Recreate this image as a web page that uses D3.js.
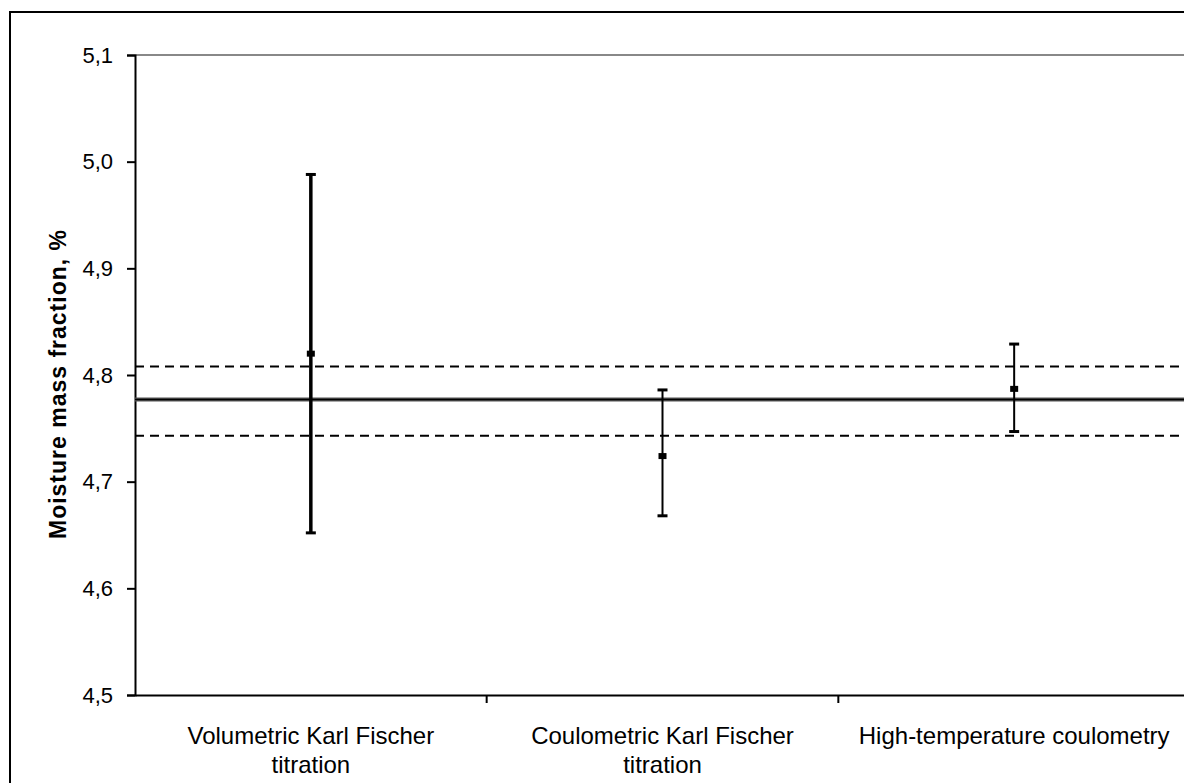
<!DOCTYPE html>
<html>
<head>
<meta charset="utf-8">
<script src="https://cdn.jsdelivr.net/npm/d3@7"></script>
<style>
  body { margin: 0; background: #fff; }
  svg text { font-family: "Liberation Sans", Arial, sans-serif; }
</style>
</head>
<body>
<svg id="chart" width="1184" height="783"></svg>
<script>
// methods on the category axis (lines of each label)
const methods = ["Volumetric Karl Fischer titration", "Coulometric Karl Fischer titration", "High-temperature coulometry"]
const methodLines = [["Volumetric Karl Fischer", "titration"], ["Coulometric Karl Fischer", "titration"], ["High-temperature coulometry"]]
// mean and interval per method
const means = [4.820, 4.724, 4.787]
const lows = [4.652, 4.668, 4.747]
const highs = [4.988, 4.786, 4.829]
// reference value and its band
const refValue = 4.777
const refLow = 4.743
const refHigh = 4.808
const yTicks = [4.5, 4.6, 4.7, 4.8, 4.9, 5.0, 5.1]

const svg = d3.select('#chart')
const plotLeft = 135, plotTop = 55, plotRight = 1190, plotBottom = 695

// outer frame
svg.append('rect')
  .attr('x', 10).attr('y', 12)
  .attr('width', 1200).attr('height', 800)
  .attr('fill', 'none').attr('stroke', '#000').attr('stroke-width', 2)

let x = d3.scaleBand().domain(methods).range([plotLeft, plotRight])
let y = d3.scaleLinear().domain([4.5, 5.1]).range([plotBottom, plotTop])

const g = svg.append('g')

// top border of plot area
g.append('line')
  .attr('x1', plotLeft).attr('x2', 1184)
  .attr('y1', y(5.1)).attr('y2', y(5.1))
  .attr('stroke', '#888').attr('stroke-width', 2)

// y axis
const yAxis = g.append('g')
  .attr('transform', `translate(${plotLeft},0)`)
  .call(d3.axisLeft(y).tickValues(yTicks).tickSize(8).tickPadding(14)
    .tickFormat(d => d3.format('.1f')(d).replace('.', ',')))
yAxis.select('.domain').attr('stroke-width', 2)
yAxis.selectAll('.tick line').attr('stroke-width', 2)
yAxis.selectAll('text').attr('font-size', 22).attr('fill', '#000')

// x axis
const xAxis = g.append('g')
  .attr('transform', `translate(0,${plotBottom})`)
  .call(d3.axisBottom(x).tickSize(0).tickFormat(''))
xAxis.select('.domain').attr('stroke-width', 2)
let edges = methods.map(m => x(m)).slice(1)
g.selectAll('.xtick')
  .data(edges)
  .enter()
  .append('line')
  .attr('x1', d => d).attr('x2', d => d)
  .attr('y1', plotBottom).attr('y2', plotBottom + 8)
  .attr('stroke', '#000').attr('stroke-width', 2)

// category labels
methods.forEach((m, i) => {
  const t = g.append('text')
    .attr('x', x(m) + x.bandwidth() / 2)
    .attr('y', 744)
    .attr('text-anchor', 'middle')
    .attr('font-size', 24)
    .attr('fill', '#000')
  methodLines[i].forEach((line, j) => {
    t.append('tspan')
      .attr('x', x(m) + x.bandwidth() / 2)
      .attr('dy', j == 0 ? 0 : 29)
      .text(line)
  })
})

// axis title
svg.append('text')
  .attr('transform', `translate(66,384) rotate(-90)`)
  .attr('text-anchor', 'middle')
  .attr('font-size', 23)
  .attr('letter-spacing', 1)
  .attr('font-weight', 'bold')
  .text('Moisture mass fraction, %')

// reference band (dashed) and value (solid)
;[refLow, refHigh].forEach(v => {
  g.append('line')
    .attr('x1', plotLeft).attr('x2', 1184)
    .attr('y1', y(v)).attr('y2', y(v))
    .attr('stroke', '#000').attr('stroke-width', 2)
    .attr('stroke-dasharray', '9,6')
})
g.append('line')
  .attr('x1', plotLeft).attr('x2', 1184)
  .attr('y1', y(refValue)).attr('y2', y(refValue))
  .attr('stroke', '#555').attr('stroke-width', 4)
g.append('line')
  .attr('x1', plotLeft).attr('x2', 1184)
  .attr('y1', y(refValue)).attr('y2', y(refValue))
  .attr('stroke', '#000').attr('stroke-width', 1.5)

// error bars
let cx = (i) => x(methods[i]) + x.bandwidth() / 2
let thick = (i) => i == 0 ? 3.5 : 2
const idx = d3.range(methods.length)

g.selectAll('.whisker').data(idx).enter().append('line')
  .attr('x1', cx).attr('x2', cx)
  .attr('y1', i => y(highs[i])).attr('y2', i => y(lows[i]))
  .attr('stroke', '#000').attr('stroke-width', thick)

;[highs, lows].forEach(arr => {
  g.selectAll(null).data(idx).enter().append('line')
    .attr('x1', i => cx(i) - 5).attr('x2', i => cx(i) + 5)
    .attr('y1', i => y(arr[i])).attr('y2', i => y(arr[i]))
    .attr('stroke', '#000').attr('stroke-width', 3)
})

g.selectAll('.mean').data(idx).enter().append('rect')
  .attr('x', i => cx(i) - 4).attr('y', i => y(means[i]) - 3)
  .attr('width', 8).attr('height', 6)
  .attr('fill', '#000')
</script>
</body>
</html>
